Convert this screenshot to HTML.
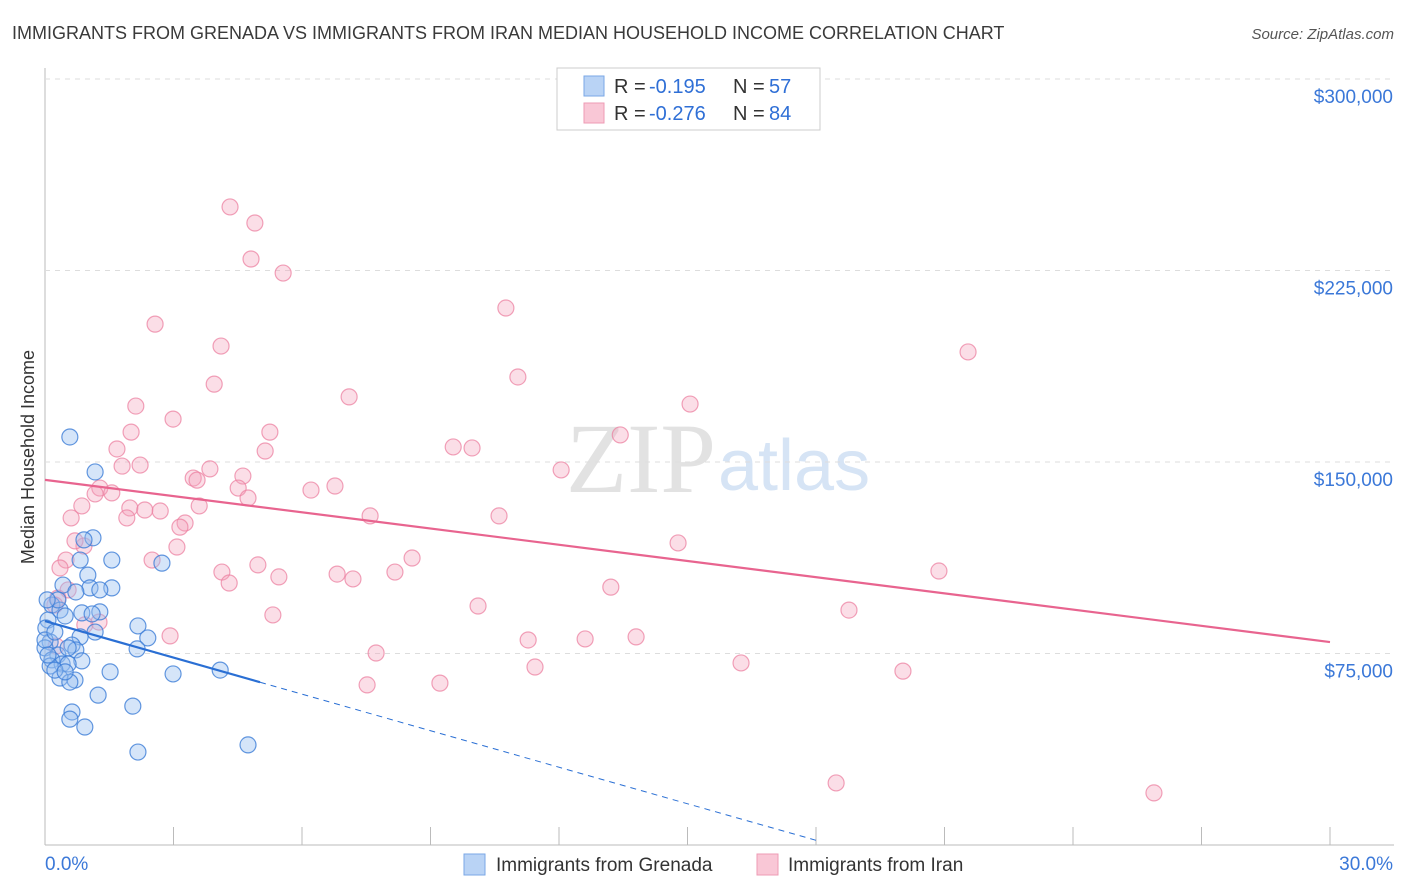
<!DOCTYPE html>
<html><head><meta charset="utf-8"><style>
body{margin:0;background:#fff;font-family:"Liberation Sans",sans-serif}
#wrap{position:relative;width:1406px;height:892px;overflow:hidden}
</style></head><body>
<div id="wrap">
<svg id="svg" width="1406" height="892" xmlns="http://www.w3.org/2000/svg">
<text x="12" y="39" font-size="18" fill="#3a3a3a">IMMIGRANTS FROM GRENADA VS IMMIGRANTS FROM IRAN MEDIAN HOUSEHOLD INCOME CORRELATION CHART</text>
<text x="1394" y="39" font-size="15" fill="#555" font-style="italic" text-anchor="end">Source: ZipAtlas.com</text>
<text x="716" y="492" font-size="100" fill="#e2e2e2" text-anchor="end" font-family="Liberation Serif">ZIP</text>
<text x="718" y="490" font-size="72" fill="#d6e4f5">atlas</text>
<text transform="translate(34,457) rotate(-90)" font-size="18" fill="#333" text-anchor="middle">Median Household Income</text>
<g id="grid"></g><g id="marks"></g>
<g>
<rect x="557" y="68" width="263" height="62" fill="#fff" stroke="#ccc"/>
<rect x="584" y="76" width="20" height="20" fill="#b9d3f5" stroke="#7aa7e6"/>
<rect x="584" y="103" width="20" height="20" fill="#f9c7d6" stroke="#ee9bb4"/>
<g font-size="20" fill="#333">
<text x="614" y="93">R =</text><text x="649" y="93" fill="#2f6fd6">-0.195</text><text x="733" y="93">N =</text><text x="769" y="93" fill="#2f6fd6">57</text></g>
<g font-size="20" fill="#333">
<text x="614" y="120">R =</text><text x="649" y="120" fill="#2f6fd6">-0.276</text><text x="733" y="120">N =</text><text x="769" y="120" fill="#2f6fd6">84</text></g>
</g>
<g>
<rect x="464" y="854" width="21" height="21" fill="#b9d3f5" stroke="#7aa7e6"/>
<text x="496" y="871" font-size="19" fill="#333">Immigrants from Grenada</text>
<rect x="757" y="854" width="21" height="21" fill="#f9c7d6" stroke="#ee9bb4"/>
<text x="788" y="871" font-size="19" fill="#333">Immigrants from Iran</text>
</g>
</svg></div>
<script>
const yTicks=[75000,150000,225000,300000];
const yTickLabels=["$75,000","$150,000","$225,000","$300,000"];
const xEnds=[0,30];
const xEndLabels=["0.0%","30.0%"];
const grenadaX=[0.58,1.17,1.12,0.91,0.82,1.56,1.00,0.42,1.05,1.56,0.72,0.16,0.35,0.86,1.28,1.10,0.07,0.47,2.17,1.17,0.02,0.82,2.40,0.12,0.63,0.0,0.72,2.15,0.30,0.86,0.16,0.40,0.54,1.52,4.09,0.35,0.70,0.58,2.99,1.24,2.05,0.63,0.58,0.93,2.17,4.74,2.73,0.0,0.12,0.23,0.47,0.07,0.30,1.28,0.54,0.23,0.05];
const grenadaY=[159.8,146.1,120.3,119.5,111.6,111.6,105.7,101.8,100.7,100.7,99.1,94.0,92.0,90.9,91.3,90.5,88.1,89.7,85.8,83.4,85.0,81.5,81.1,79.5,78.3,77.2,76.4,76.8,74.4,72.1,72.5,70.9,70.9,67.8,68.5,65.4,64.6,63.8,67.0,58.7,54.4,52.1,49.3,46.2,36.4,39.2,110.4,80.3,70.1,68.5,67.8,74.4,96.0,99.9,77.2,83.4,96.0];
const iranX=[4.32,4.90,4.81,5.56,2.57,10.76,4.11,21.55,3.95,11.04,7.10,2.12,15.06,2.99,2.01,5.25,13.43,1.68,9.53,9.97,5.14,2.22,1.80,3.85,12.05,4.62,3.46,3.55,4.51,1.28,1.56,1.17,4.74,6.21,6.77,0.86,1.98,2.33,2.69,3.60,0.61,1.91,7.59,10.60,3.27,3.15,0.91,3.08,14.78,0.70,2.50,0.49,8.57,4.97,4.13,0.35,8.17,6.82,7.19,4.30,5.46,20.87,0.54,0.30,0.23,13.21,10.11,5.32,18.77,1.26,0.93,2.92,11.28,12.61,13.80,7.73,0.26,11.44,16.25,7.52,9.22,20.03,18.47,25.89];
const iranY=[249.9,243.6,229.5,224.0,204.0,210.3,195.4,193.1,180.5,183.3,175.5,171.9,172.7,166.8,161.7,161.7,160.6,155.1,155.9,155.5,154.3,148.8,148.4,147.3,146.9,144.5,143.7,142.9,139.8,139.8,137.9,137.5,135.9,139.0,140.6,132.8,132.0,131.2,130.8,132.8,128.1,128.1,128.9,128.9,126.1,124.5,117.1,116.7,118.3,119.1,111.6,111.6,112.4,109.7,106.9,108.5,106.9,106.1,104.2,102.6,105.0,107.3,99.9,96.7,94.0,101.0,93.6,90.1,92.0,87.3,86.2,81.9,80.3,80.7,81.5,75.2,77.9,69.7,71.3,62.7,63.4,68.1,24.3,20.4];
const grenadaTrend=[87.7,-4.77];
const grenadaTrendRange=[0,5.02,18.1];
const iranTrend=[143.0,-2.117];
const NS="http://www.w3.org/2000/svg";
const X0=45,X1=1330,YB=845,YT=79;
const sx=v=>X0+(v-0)/(30)*(X1-X0);
const sy=v=>YB-v/300000*(YB-YT);
function mk(tag,attrs,parent){const e=document.createElementNS(NS,tag);for(const k in attrs)e.setAttribute(k,attrs[k]);parent.appendChild(e);return e;}
const grid=document.getElementById('grid'),marks=document.getElementById('marks');
let a=mk('line',{x1:X0,y1:68,x2:X0,y2:YB,stroke:'#bbb'},grid);


a=mk('line',{x1:X0,y1:YB,x2:1394,y2:YB,stroke:'#bbb'},grid);


for(let i=0;i<=10;i++){const x=sx(i*3);const t=mk('line',{x1:x,y1:YB,x2:x,y2:827,stroke:'#bbb'},grid);

}
yTicks.forEach((v,i)=>{const y=sy(v);const g=mk('line',{x1:X0,y1:y,x2:1394,y2:y,stroke:'#ddd','stroke-dasharray':'5,5'},grid);


const t=mk('text',{x:1393,y:y+24,'font-size':19,fill:'#3b78d8','text-anchor':'end'},grid);t.textContent=yTickLabels[i];

});
xEnds.forEach((v,i)=>{const t=mk('text',{x:i?1393:45,y:870,'font-size':19,fill:'#3b78d8','text-anchor':i?'end':'start'},grid);t.textContent=xEndLabels[i];

});
iranX.forEach((x,i)=>{const c=mk('circle',{cx:sx(x),cy:sy(iranY[i]*1000),r:8,fill:'rgba(244,160,185,0.35)',stroke:'rgba(236,130,162,0.75)','stroke-width':1.2},marks);

});
grenadaX.forEach((x,i)=>{const c=mk('circle',{cx:sx(x),cy:sy(grenadaY[i]*1000),r:8,fill:'rgba(150,190,240,0.4)',stroke:'rgba(60,125,215,0.8)','stroke-width':1.2},marks);

});
const gy=x=>(grenadaTrend[0]+grenadaTrend[1]*x)*1000;
let l=mk('line',{x1:sx(0),y1:sy(iranTrend[0]*1000),x2:sx(30),y2:sy((iranTrend[0]+iranTrend[1]*30)*1000),stroke:'#e8648f','stroke-width':2.2},marks);


l=mk('line',{x1:sx(grenadaTrendRange[0]),y1:sy(gy(grenadaTrendRange[0])),x2:sx(grenadaTrendRange[1]),y2:sy(gy(grenadaTrendRange[1])),stroke:'#2a6fd4','stroke-width':2.2},marks);


l=mk('line',{x1:sx(grenadaTrendRange[1]),y1:sy(gy(grenadaTrendRange[1])),x2:sx(grenadaTrendRange[2]),y2:sy(gy(grenadaTrendRange[2])),stroke:'#2a6fd4','stroke-width':1,'stroke-dasharray':'6,5'},marks);


</script>
</body></html>
